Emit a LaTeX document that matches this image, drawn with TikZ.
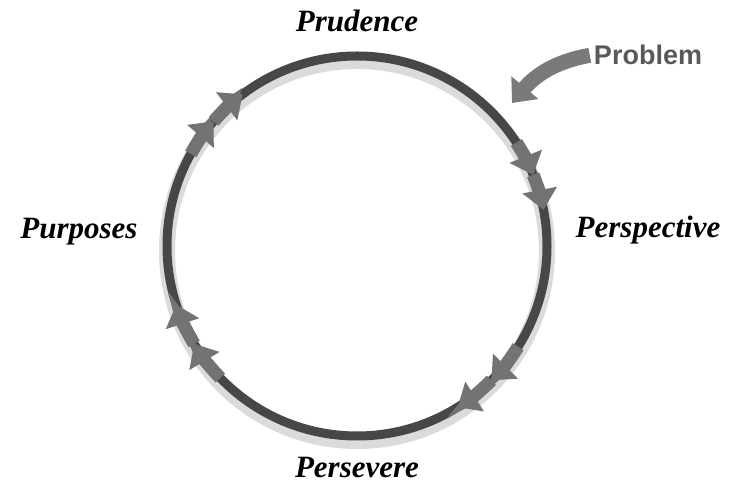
\documentclass[tikz,border=0pt]{standalone}
\usepackage{fontspec}
\setmainfont{Liberation Serif}
\setsansfont{Liberation Sans}
\usetikzlibrary{arrows.meta,positioning,calc}
\tikzset{
  stage/.style={font=\fontsize{31}{31}\selectfont\bfseries\itshape, inner sep=0pt, anchor=base},
  issue/.style={font=\fontsize{27}{27}\selectfont\sffamily\bfseries, text=black!65, inner sep=0pt, anchor=base},
  ring/.style={line width=9pt, draw=black!72},
  ringshade/.style={line width=16pt, draw=black!14},
  flow/.style={line width=13pt, draw=black!55, -{Triangle[width=34pt,length=20pt]}},
  issuearrow/.style={line width=15pt, draw=black!52, -{Triangle[width=34pt,length=20pt]}},
}
\begin{document}
\begin{tikzpicture}[x=1pt, y=1pt]
  \useasboundingbox (0,0) rectangle (741,486);
  \coordinate (c) at (357,240);

  % the cycle
  \draw[ringshade] ($(c)+(0,-5)$) circle[radius=190];
  \draw[ring] (c) circle[radius=190];
  \foreach \a/\b in {151/127, 33/11, -32/-58, -136/-162} {
    \pgfmathsetmacro{\m}{(\a+\b)/2}
    \draw[flow] ($(c)+(\a:190)$) arc[start angle=\a, end angle=\m, radius=190];
    \draw[flow] ($(c)+(\m:190)$) arc[start angle=\m, end angle=\b, radius=190];
  }

  % stages
  \node[stage] (prudence) at (357,454) {Prudence};
  \node[stage] (perspective) at (648,248) {Perspective};
  \node[stage] (persevere) at (357,8) {Persevere};
  \node[stage] (purposes) at (79,247) {Purposes};

  % entry point
  \node[issue] (problem) at (648,421) {Problem};
  \coordinate (hit) at (512,383);
  \draw[issuearrow] ([xshift=-4pt]problem.west) to[out=190, in=50] (hit);
\end{tikzpicture}
\end{document}
